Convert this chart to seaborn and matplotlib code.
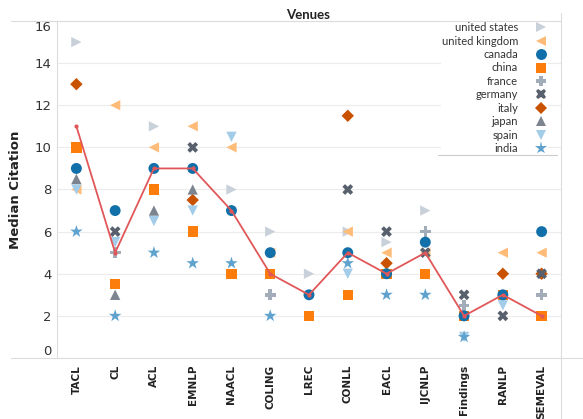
import numpy as np
import pandas as pd
import matplotlib.pyplot as plt
from matplotlib.lines import Line2D
from matplotlib.ticker import FixedLocator
import seaborn as sns

nan = np.nan

# venues on the x axis
venues = ['TACL', 'CL', 'ACL', 'EMNLP', 'NAACL', 'COLING', 'LREC',
          'CONLL', 'EACL', 'IJCNLP', 'Findings', 'RANLP', 'SEMEVAL']

# median citation per country and venue (nan = no point)
united_states  = [15,  nan, 11,  nan, 8,    6,   4,   6,    5.5, 7,   nan, nan, nan]
united_kingdom = [8,   12,  10,  11,  10,   5,   nan, 6,    5,   5,   nan, 5,   5]
canada         = [9,   7,   9,   9,   7,    5,   3,   5,    4,   5.5, 2,   3,   6]
china          = [10,  3.5, 8,   6,   4,    4,   2,   3,    4,   4,   2,   3,   2]
france         = [nan, 5,   nan, nan, nan,  3,   nan, nan,  nan, 6,   2.5, nan, 3]
germany        = [nan, 6,   nan, 10,  nan,  nan, nan, 8,    6,   5,   3,   2,   4]
italy          = [13,  nan, nan, 7.5, nan,  nan, nan, 11.5, 4.5, nan, nan, 4,   4]
japan          = [8.5, 3,   7,   8,   nan,  nan, nan, nan,  nan, nan, nan, nan, nan]
spain          = [8,   5.5, 6.5, 7,   10.5, nan, nan, 4,    nan, nan, 1,   2.5, nan]
india          = [6,   2,   5,   4.5, 4.5,  2,   nan, 4.5,  3,   3,   1,   nan, nan]

# overall median (red line)
overall = [11, 5, 9, 9, 7, 4, 3, 5, 4, 5, 2, 3, 2]

countries = ['united states', 'united kingdom', 'canada', 'china', 'france',
             'germany', 'italy', 'japan', 'spain', 'india']
series = [united_states, united_kingdom, canada, china, france,
          germany, italy, japan, spain, india]

colors = ['#c8d0d9', '#ffbc79', '#1170aa', '#fc7d0b', '#a3acb9',
          '#57606c', '#c85200', '#7b848f', '#a3cce9', '#5fa2ce']
markers = ['>', '<', 'o', 's', 'P', 'X', 'D', '^', 'v', '*']
sizes = [55, 55, 62, 55, 60, 60, 40, 55, 55, 90]

# order of drawing (bottom -> top)
draw_order = ['united states', 'united kingdom', 'china', 'italy', 'france',
              'spain', 'japan', 'india', 'germany', 'canada']

rows = []
for name in draw_order:
    vals = series[countries.index(name)]
    for v, val in zip(venues, vals):
        if not np.isnan(val):
            rows.append({'venue': v, 'citation': val, 'country': name})
df = pd.DataFrame(rows)

sns.set_style('white')
plt.rcParams['font.family'] = ['DejaVu Sans']

fig = plt.figure(figsize=(5.83, 4.19), dpi=100)
ax = fig.add_axes([57 / 583, 1 - 358 / 419, (561 - 57) / 583, (358 - 21) / 419])

# fix category order first
ax.plot(venues, [nan] * len(venues))

sns.scatterplot(
    data=df, x='venue', y='citation',
    hue='country', style='country', size='country',
    hue_order=countries, style_order=countries, size_order=countries,
    palette=dict(zip(countries, colors)),
    markers=dict(zip(countries, markers)),
    sizes=dict(zip(countries, sizes)),
    linewidth=0, alpha=1, ax=ax, zorder=3,
)
handles, labels = ax.get_legend_handles_labels()
ax.get_legend().remove()

sns.lineplot(x=venues, y=overall, color='#e15759', linewidth=1.3,
             marker='o', markersize=3, markeredgewidth=0, sort=False,
             legend=False, ax=ax, zorder=4)

ax.set_xlim(-0.5, len(venues) - 0.5)
ax.set_ylim(0, 16)
ax.set_yticks(range(0, 17, 2))
ax.set_yticklabels([str(t) for t in range(0, 17, 2)])
ylabs = ax.get_yticklabels()
ylabs[0].set_va('bottom')
ylabs[-1].set_va('top')
ax.tick_params(axis='y', length=0, labelsize=9.5, labelcolor='#333333', pad=4)

ax.set_xticks(range(len(venues)))
ax.set_xticklabels(venues, rotation=90, fontweight='bold', fontsize=7.5)
ax.tick_params(axis='x', which='major', length=0, pad=5, labelcolor='#222222')
ax.xaxis.set_minor_locator(FixedLocator(np.arange(-0.5, len(venues) - 1, 1)))
ax.tick_params(axis='x', which='minor', length=45, width=0.6, color='#e6e6e6')

ax.yaxis.grid(True, color='#ececec', linewidth=0.8)
ax.set_axisbelow(True)
for s in ['top', 'right', 'bottom']:
    ax.spines[s].set_visible(False)
ax.spines['left'].set_color('#dcdcdc')
ax.spines['left'].set_linewidth(0.8)

ax.set_xlabel('')
ax.set_ylabel('Median Citation', fontweight='bold', fontsize=9.5, color='#222222')
ax.yaxis.set_label_coords((22 - 57) / 504, 0.5)

fig.text(308 / 583, 1 - 15 / 419, 'Venues', ha='center', va='center',
         fontweight='bold', fontsize=9.5, color='#222222', family='Lato')

leg = ax.legend(handles, labels, loc='upper right', markerfirst=False,
                bbox_to_anchor=((548 - 57) / (561 - 57), 1.0),
                frameon=True, facecolor='white', edgecolor='none', framealpha=1,
                prop={'family': 'Lato', 'size': 8}, labelspacing=0.22,
                handletextpad=1.6, borderpad=0.1, borderaxespad=0,
                handlelength=1.0)
leg.get_frame().set_boxstyle('square', pad=0)
for t in leg.get_texts():
    t.set_color('#333333')
leg.set_zorder(6)

# frame lines around the chart
line_kw = dict(color='#dcdcdc', linewidth=0.8, transform=fig.transFigure)
fig.add_artist(Line2D([11 / 583, 561 / 583], [1 - 21 / 419] * 2, **line_kw))
fig.add_artist(Line2D([11 / 583, 1], [1 - 358 / 419] * 2, **line_kw))
fig.add_artist(Line2D([561 / 583] * 2, [0, 1 - 13 / 419], **line_kw))

# line under the legend
fig.canvas.draw()
bb = leg.get_window_extent().transformed(fig.transFigure.inverted())
fig.add_artist(Line2D([438 / 583, 557 / 583], [bb.y0, bb.y0], color='#cccccc',
                      linewidth=0.8, transform=fig.transFigure, zorder=10))

plt.savefig('out.png', dpi=100)
